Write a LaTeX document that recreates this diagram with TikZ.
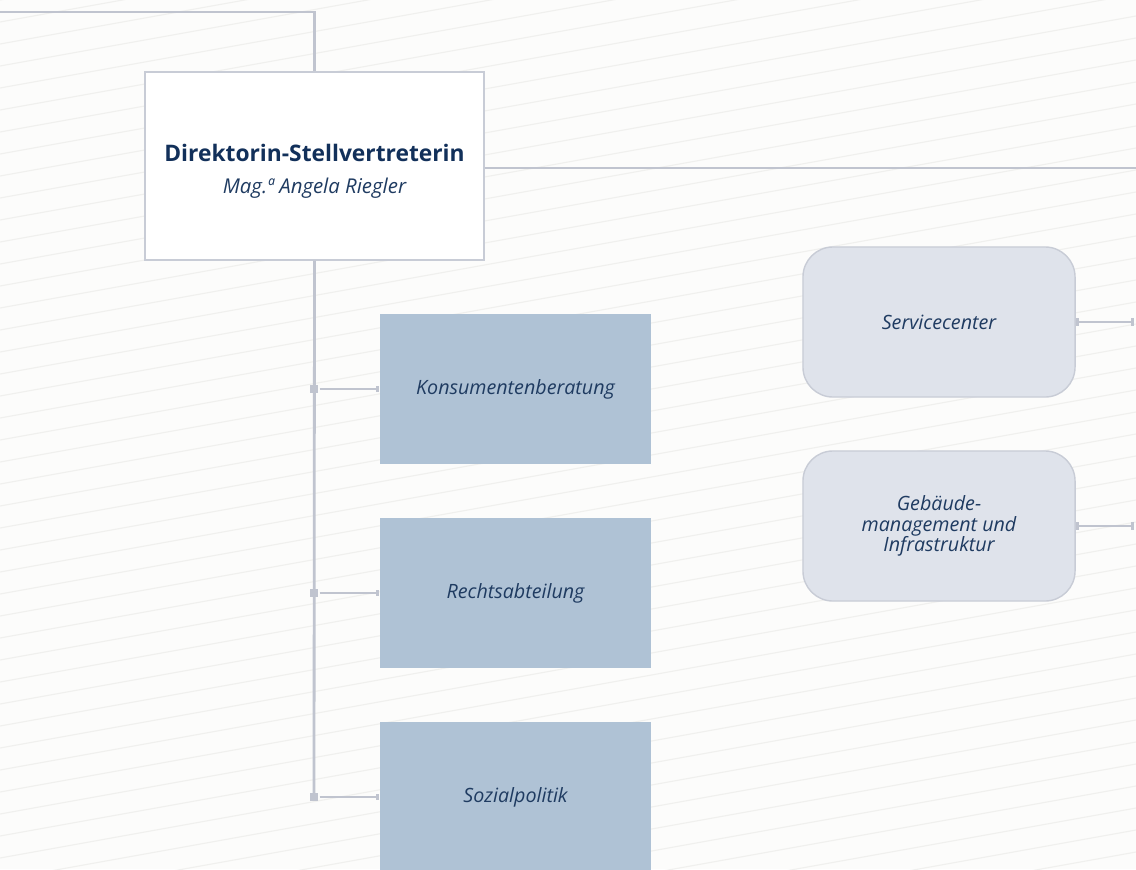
\documentclass[tikz,border=0pt]{standalone}
\usepackage{fontspec}
\setmainfont{Open Sans}
\usetikzlibrary{arrows.meta}
\definecolor{paper}{HTML}{FCFCFB}
\definecolor{hatch}{HTML}{F0F0EE}
\definecolor{wire}{HTML}{C0C4CF}
\definecolor{boxline}{HTML}{C8CCD6}
\definecolor{navy}{HTML}{12305A}
\definecolor{textblue}{HTML}{1F3B61}
\definecolor{unitblue}{HTML}{AFC2D5}
\definecolor{staffgrey}{HTML}{DFE3EB}
\begin{document}
\begin{tikzpicture}[x=0.025cm, y=-0.025cm, line width=2pt,
head node/.style={rectangle,draw=boxline,fill=white,line width=1pt,minimum width=8.475cm,minimum height=4.7cm,inner sep=0pt},
head text/.style={align=center,text=navy,inner sep=0pt,font=\fontsize{16.2}{22.5}\selectfont},
unit node/.style={rectangle,fill=unitblue,minimum width=6.775cm,minimum height=3.75cm,inner sep=0pt,text=textblue,font=\itshape\fontsize{14}{14.5}\selectfont},
staff node/.style={rectangle,rounded corners=0.75cm,draw=boxline,fill=staffgrey,line width=1pt,minimum width=6.8cm,minimum height=3.75cm,inner sep=0pt,align=center,text=textblue,font=\itshape\fontsize{14}{14.5}\selectfont},
joint node/.style={rectangle,fill=wire,minimum size=6pt,inner sep=0pt}]
\useasboundingbox (0,0) rectangle (1136,869);
\fill[paper] (0,0) rectangle (1136,869);
\begin{scope}
\clip (0,0) rectangle (1136,869);
\foreach \k in {0,...,50}
  \draw[hatch,line width=0.8pt] (0,\k*22) -- ++(1136,-204);
\end{scope}
\begin{scope}
\node[head node] (dir) at (314.5,166) {};%head
\node[head text] (dirname) at (314.5,171) {{\bfseries Direktorin-Stellvertreterin}\\
  {\itshape\fontsize{14.5}{15}\selectfont\color{textblue} Mag.ª Angela Riegler}};
\node[unit node] (kons) at (515.5,389) {Konsumentenberatung};%1
\node[unit node] (recht) at (515.5,593) {Rechtsabteilung};%2
\node[unit node] (sozial) at (515.5,797) {Sozialpolitik};%3
\node[staff node] (svc) at (939,322) {Servicecenter};%4
\node[staff node] (geb) at (939,526) {Gebäude-\\management und\\Infrastruktur};%5
\end{scope}
\coordinate (top) at (0,12);
\coordinate (right) at (1136,168);
\coordinate (svcend) at (1134,322);
\coordinate (gebend) at (1134,526);
\begin{scope}[every edge/.style={draw=wire,line width=2pt}]
\node[joint node] (j1) at (314,389) {};
\node[joint node] (j2) at (314,593) {};
\node[joint node] (j3) at (314,797) {};
\draw[wire] (top) -| (dir.north);
\draw (dir.east |- right) edge (right);
\draw (dir.south) edge (j3.center);
\draw (j1) edge[-{Rectangle[length=2pt,width=4.5pt]}] (kons);
\draw (j2) edge[-{Rectangle[length=2pt,width=4.5pt]}] (recht);
\draw (j3) edge[-{Rectangle[length=2pt,width=4.5pt]}] (sozial);
\draw (svc.east) edge[{Rectangle[length=2pt,width=5pt]}-{Bar[width=6pt]}] (svcend);
\draw (geb.east) edge[{Rectangle[length=2pt,width=5pt]}-{Bar[width=6pt]}] (gebend);
\end{scope}
\end{tikzpicture}
\end{document}
